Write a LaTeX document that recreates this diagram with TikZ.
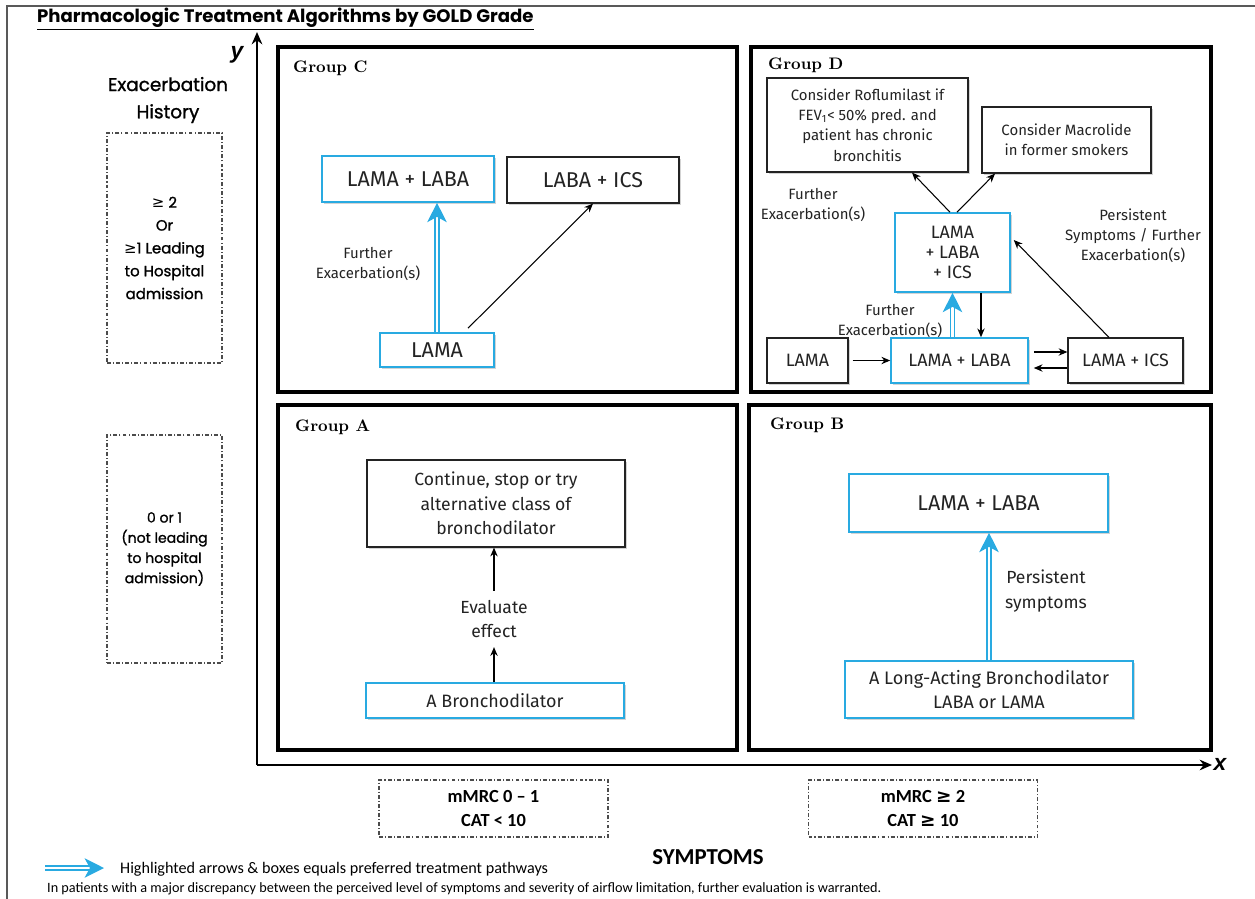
\documentclass[tikz,border=0pt]{standalone}
\usepackage{fontspec}
\usepackage{tikz}
\usetikzlibrary{arrows.meta, shadows, calc, positioning}
\newfontfamily\gothic{Poppins}
\newfontfamily\gothicmed{Poppins}[FakeBold=1.2]
\newfontfamily\boxfont{Fira Sans}
\newfontfamily\calib{Carlito}
\newfontfamily\symfont{DejaVu Sans}
\newfontfamily\axisfont{Liberation Sans}
\newcommand{\gq}{{\symfont ≥}}
\definecolor{goldblue}{RGB}{41,170,225}
\definecolor{inkgray}{RGB}{35,35,35}

\begin{document}
\begin{tikzpicture}[x=0.02cm, y=-0.02cm,
	box/.style={draw=inkgray, line width=0.7pt, fill=white, align=center, inner sep=0pt,
		text=inkgray, font=\boxfont, drop shadow={shadow xshift=1.4pt, shadow yshift=-1.4pt, opacity=.35}},
	bluebox/.style={box, draw=goldblue, line width=0.9pt},
	groupbox/.style={draw=black, line width=1.9pt, inner sep=0pt},
	grouplabel/.style={anchor=west, font=\bfseries\fontsize{9.5}{11}\selectfont},
	dashbox/.style={draw=gray!60!black, line width=0.6pt, dash pattern=on 2.2pt off 1.2pt on 0.6pt off 1.2pt, inner sep=0pt, align=center},
	lbl/.style={align=center, text=inkgray, font=\boxfont\fontsize{8.5}{11.5}\selectfont},
	bigcaps/.style={font=\boxfont\fontsize{12.2}{13}\selectfont},
	smallcaps/.style={font=\boxfont\fontsize{10.2}{11.6}\selectfont},
	arr/.style={draw=black, line width=0.6pt, -{Stealth[length=5pt, width=4.2pt]}},
	pref/.style={draw=goldblue, line width=1.1pt, double=white, double distance=1.2pt, -{Stealth[length=11pt, width=11pt, inset=3pt]}},
	axis/.style={draw=black, line width=1.6pt, -{Stealth[length=7pt, width=6pt]}}]
	\def\px{0.02cm}
	\useasboundingbox (0,0) rectangle (1255,899);

	% frame and title
	\draw[gray!70!black, line width=0.8pt] (7,899) -- (7,6) -- (1255,6);
	\node[anchor=west, font=\gothic\bfseries\fontsize{10.3}{12}\selectfont] (title) at (31,19)
		{\underline{Pharmacologic Treatment Algorithms by GOLD Grade}};

	% axes
	\coordinate (O) at (257,765);
	\coordinate (ytop) at (257,32);
	\coordinate (xend) at (1212,765);
	\draw[axis] (O) -- (ytop);
	\draw[axis] (O) -- (xend);
	\node[font=\axisfont\bfseries\itshape\fontsize{13}{13}\selectfont] (ylab) at (237,55) {y};
	\node[font=\axisfont\bfseries\itshape\fontsize{13}{13}\selectfont] (xlab) at (1220,764) {x};

	% exacerbation history
	\node[align=center, font=\gothicmed\fontsize{10.5}{15.5}\selectfont] (exhist) at (168,100) {Exacerbation\\History};
	\node[dashbox, minimum width=115*\px, minimum height=230*\px, font=\gothicmed\fontsize{8.5}{13}\selectfont] (exhigh) at (164.5,248)
		{\gq\ 2\\Or\\\gq1 Leading\\to Hospital\\admission};
	\node[dashbox, minimum width=115*\px, minimum height=228*\px, font=\gothicmed\fontsize{8}{11.5}\selectfont] (exlow) at (164.5,549)
		{0 or 1\\(not leading\\to hospital\\admission)};

	% symptoms
	\node[dashbox, minimum width=229*\px, minimum height=57*\px, font=\calib\bfseries\fontsize{10.5}{13.5}\selectfont] (symlow) at (493.5,808.5)
		{mMRC 0 – 1\\CAT < 10};
	\node[dashbox, minimum width=229*\px, minimum height=57*\px, font=\calib\bfseries\fontsize{10.5}{13.5}\selectfont] (symhigh) at (923,808.5)
		{mMRC \gq\ 2\\CAT \gq\ 10};
	\node[font=\calib\bfseries\fontsize{13}{14}\selectfont] (symp) at (708,857) {SYMPTOMS};

	% legend and note
	\coordinate (legA) at (45,868);
	\coordinate (legB) at (104,868);
	\draw[pref] (legA) -- (legB);
	\node[anchor=west, font=\calib\fontsize{9.2}{10}\selectfont] (legtxt) at (114,869)
		{Highlighted arrows \& boxes equals preferred treatment pathways};
	\node[anchor=west, font=\calib\fontsize{8.1}{9}\selectfont] (note) at (41,889)
		{In patients with a major discrepancy between the perceived level of symptoms and severity of airflow limitation, further evaluation is warranted.};

	% Group C
	\node[groupbox, minimum width=459*\px, minimum height=345*\px] (grpC) at (507.5,219.5) {};
	\node[grouplabel] (labC) at (287,68) {Group C};
	\node[bluebox, bigcaps, minimum width=172*\px, minimum height=46*\px] (cLL) at (408,179) {LAMA + LABA};
	\node[box, bigcaps, minimum width=172*\px, minimum height=46*\px] (cLI) at (593,180) {LABA + ICS};
	\node[bluebox, bigcaps, minimum width=114*\px, minimum height=34*\px] (cLAMA) at (437,350) {LAMA};
	\draw[pref] (cLAMA.north) -- (cLAMA.north |- cLL.south);
	\draw[arr] ([shift={(31,-4)}]cLAMA.north) -- (cLI.south);
	\node[lbl] (cFur) at (368,264) {Further\\Exacerbation(s)};

	% Group D
	\node[groupbox, minimum width=460*\px, minimum height=345*\px] (grpD) at (981,219.5) {};
	\node[grouplabel] (labD) at (762,65) {Group D};
	\node[box, minimum width=201*\px, minimum height=94*\px, font=\boxfont\fontsize{8.5}{11.5}\selectfont] (dRof) at (867.5,125)
		{Consider Roflumilast if\\FEV\textsubscript{1}< 50\% pred. and\\patient has chronic\\bronchitis};
	\node[box, minimum width=169*\px, minimum height=66*\px, font=\boxfont\fontsize{8.5}{11.5}\selectfont] (dMac) at (1066.5,140)
		{Consider Macrolide\\in former smokers};
	\node[bluebox, smallcaps, minimum width=115*\px, minimum height=79*\px] (dTri) at (952.5,252.5)
		{LAMA\\+ LABA\\+ ICS};
	\node[box, smallcaps, minimum width=81*\px, minimum height=45*\px] (dLAMA) at (807.5,360.5) {LAMA};
	\node[bluebox, smallcaps, minimum width=137*\px, minimum height=45*\px] (dLL) at (959.5,360.5) {LAMA + LABA};
	\node[box, smallcaps, minimum width=115*\px, minimum height=45*\px] (dLI) at (1125.5,360.5) {LAMA + ICS};
	\coordinate (tridown) at ($(dTri.south)+(28.5,0)$);
	\draw[arr] ([xshift=-2.5*\px]dTri.north) -- ([xshift=44.5*\px]dRof.south);
	\draw[arr] ([xshift=4.5*\px]dTri.north) -- ([xshift=-71.5*\px]dMac.south);
	\draw[arr] ([xshift=4*\px]dLAMA.east) -- (dLL.west);
	\draw[pref] (dTri.south |- dLL.north) -- (dTri.south);
	\draw[arr] (tridown) -- (tridown |- dLL.north);
	\draw[arr] ([shift={(5,-8.5)}]dLL.east) -- ([shift={(0,-8.5)}]dLI.west);
	\draw[arr] ([shift={(0,7.5)}]dLI.west) -- ([shift={(5,7.5)}]dLL.east);
	\draw[arr] ([xshift=-16.5*\px]dLI.north) -- ([shift={(3,-12.5)}]dTri.east);
	\node[lbl] (dFurA) at (813,205) {Further\\Exacerbation(s)};
	\node[lbl] (dPers) at (1133,236) {Persistent\\Symptoms / Further\\Exacerbation(s)};
	\node[lbl] (dFurB) at (890,321) {Further\\Exacerbation(s)};

	% Group A
	\node[groupbox, minimum width=459*\px, minimum height=345*\px] (grpA) at (507.5,577.5) {};
	\node[grouplabel] (labA) at (289,427) {Group A};
	\node[box, minimum width=258*\px, minimum height=87*\px, font=\boxfont\fontsize{10}{14}\selectfont] (aCont) at (496,503.5)
		{Continue, stop or try\\alternative class of\\bronchodilator};
	\node[lbl, font=\boxfont\fontsize{10}{14}\selectfont, inner sep=5pt] (aEval) at (494,619) {Evaluate\\effect};
	\node[bluebox, minimum width=258*\px, minimum height=35*\px, font=\boxfont\fontsize{10.2}{12}\selectfont] (aBron) at (495,700.5) {A Bronchodilator};
	\draw[arr] (aBron.north -| aEval.south) -- (aEval.south);
	\draw[arr] (aEval.north) -- (aEval.north |- aCont.south);

	% Group B
	\node[groupbox, minimum width=462*\px, minimum height=345*\px] (grpB) at (980,577.5) {};
	\node[grouplabel] (labB) at (764,425) {Group B};
	\node[bluebox, bigcaps, minimum width=259*\px, minimum height=58*\px] (bLL) at (978.5,503) {LAMA + LABA};
	\node[bluebox, minimum width=288*\px, minimum height=57*\px, font=\boxfont\fontsize{10.3}{14}\selectfont] (bLong) at (989,689.5)
		{A Long-Acting Bronchodilator\\LABA or LAMA};
	\draw[pref] (bLong.north) -- (bLong.north |- bLL.south);
	\node[lbl, font=\boxfont\fontsize{10}{14}\selectfont] (bPers) at (1046,591) {Persistent\\symptoms};
\end{tikzpicture}
\end{document}
